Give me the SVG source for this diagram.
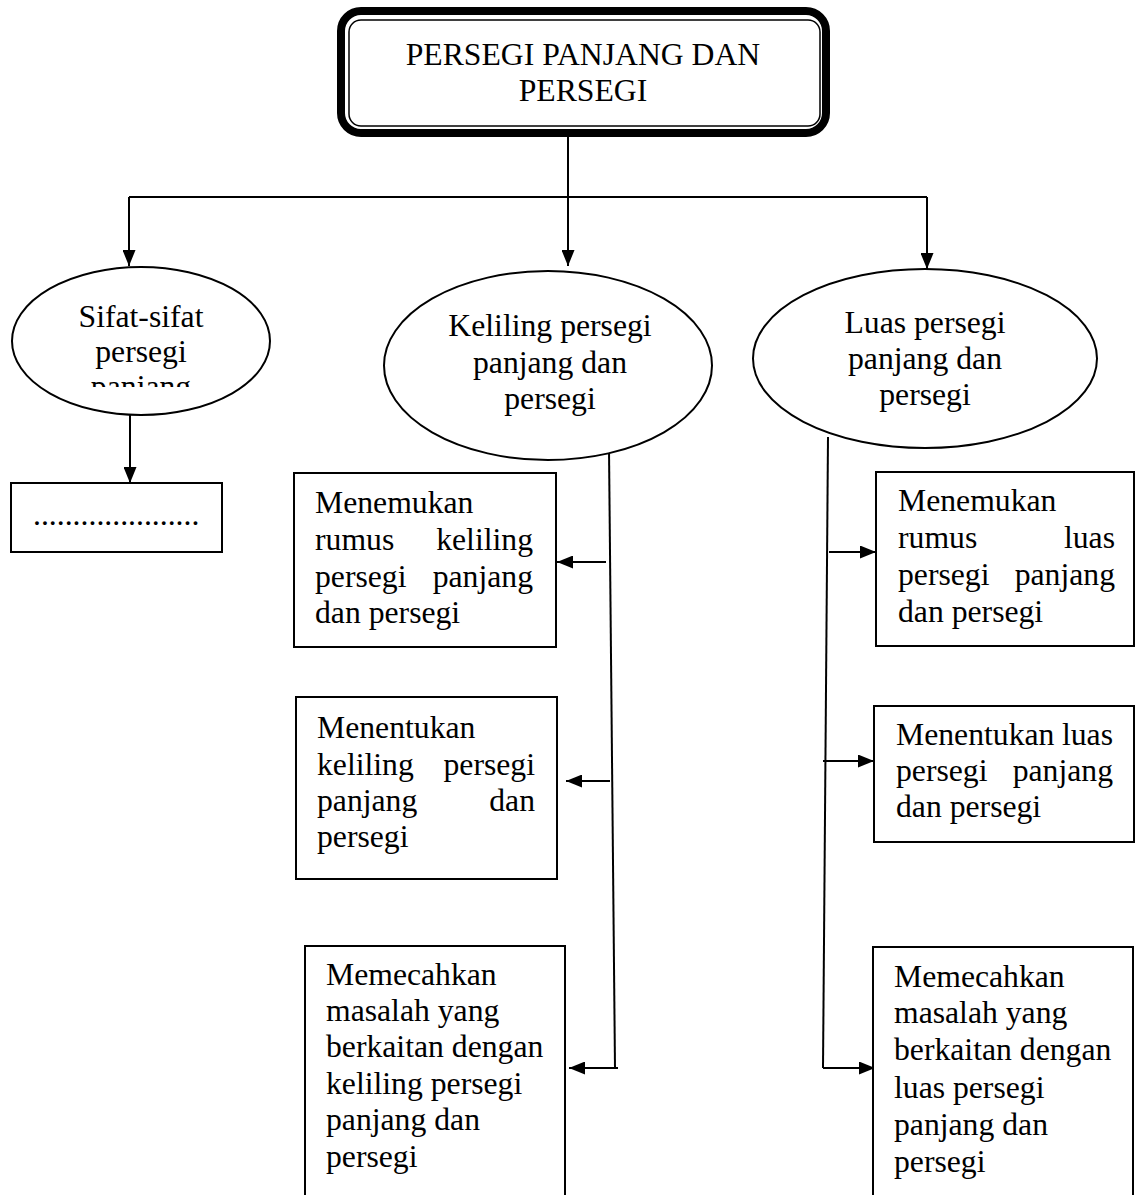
<svg xmlns="http://www.w3.org/2000/svg" width="1136" height="1195" viewBox="0 0 1136 1195">
<style>
  .t { font-family: "Liberation Serif", "Times New Roman", serif; font-size: 31.7px; fill: #000; }
  .mid { text-anchor: middle; }
  .end { text-anchor: end; }
  .box { fill: #fff; stroke: #000; stroke-width: 2; }
  .conn { fill: none; stroke: #000; stroke-width: 2; }
</style>
<defs>
  <marker id="ah" markerUnits="userSpaceOnUse" markerWidth="16" markerHeight="13" refX="16" refY="6.5" orient="auto">
    <path d="M0,0 L16,6.5 L0,13 z" fill="#000"/>
  </marker>
  <clipPath id="clipSifat">
    <rect x="20" y="280" width="240" height="107"/>
  </clipPath>
</defs>
<rect width="1136" height="1195" fill="#fff"/>

<g id="connectors">
  <path class="conn" d="M129,197 H927"/>
  <path class="conn" d="M568,137 V266" marker-end="url(#ah)"/>
  <path class="conn" d="M129,197 V266" marker-end="url(#ah)"/>
  <path class="conn" d="M927,197 V269" marker-end="url(#ah)"/>
  <path class="conn" d="M130,415 V483" marker-end="url(#ah)"/>
  <path class="conn" d="M609,449 L615,1068"/>
  <path class="conn" d="M606,562 H557" marker-end="url(#ah)"/>
  <path class="conn" d="M610,781 H566" marker-end="url(#ah)"/>
  <path class="conn" d="M618,1068 H569" marker-end="url(#ah)"/>
  <path class="conn" d="M828,437 L823,1068"/>
  <path class="conn" d="M829,552 H876" marker-end="url(#ah)"/>
  <path class="conn" d="M823,761 H874" marker-end="url(#ah)"/>
  <path class="conn" d="M823,1068 H875" marker-end="url(#ah)"/>
</g>

<g id="title">
  <rect x="341" y="11" width="485" height="122" rx="20" ry="20" fill="#fff" stroke="#000" stroke-width="8"/>
  <rect x="349" y="20" width="471" height="106" rx="12" ry="12" fill="none" stroke="#000" stroke-width="1.5"/>
  <text class="t mid" x="583" y="65">PERSEGI PANJANG DAN</text>
  <text class="t mid" x="583" y="101">PERSEGI</text>
</g>

<g id="sifat">
  <ellipse class="box" cx="141" cy="341" rx="129" ry="74"/>
  <g clip-path="url(#clipSifat)">
    <text class="t mid" x="141" y="327">Sifat-sifat</text>
    <text class="t mid" x="141" y="362">persegi</text>
    <text class="t mid" x="141" y="397">panjang</text>
  </g>
</g>

<g id="dots">
  <rect class="box" x="11" y="483" width="211" height="69"/>
  <text class="t" x="33" y="525">.....................</text>
</g>

<g id="keliling">
  <ellipse class="box" cx="548" cy="365.5" rx="164" ry="94.5"/>
  <text class="t mid" x="550" y="336">Keliling persegi</text>
  <text class="t mid" x="550" y="373">panjang dan</text>
  <text class="t mid" x="550" y="409">persegi</text>
</g>

<g id="luas">
  <ellipse class="box" cx="925" cy="358.5" rx="172" ry="89.5"/>
  <text class="t mid" x="925" y="333">Luas persegi</text>
  <text class="t mid" x="925" y="369">panjang dan</text>
  <text class="t mid" x="925" y="405">persegi</text>
</g>

<g id="k1">
  <rect class="box" x="294" y="473" width="262" height="174"/>
  <text class="t" x="315" y="513">Menemukan</text>
  <text class="t" x="315" y="550">rumus</text>
  <text class="t end" x="533" y="550">keliling</text>
  <text class="t" x="315" y="587">persegi</text>
  <text class="t end" x="533" y="587">panjang</text>
  <text class="t" x="315" y="623">dan persegi</text>
</g>

<g id="k2">
  <rect class="box" x="296" y="697" width="261" height="182"/>
  <text class="t" x="317" y="738">Menentukan</text>
  <text class="t" x="317" y="775">keliling</text>
  <text class="t end" x="535" y="775">persegi</text>
  <text class="t" x="317" y="811">panjang</text>
  <text class="t end" x="535" y="811">dan</text>
  <text class="t" x="317" y="847">persegi</text>
</g>

<g id="k3">
  <rect class="box" x="305" y="946" width="260" height="260"/>
  <text class="t" x="326" y="985">Memecahkan</text>
  <text class="t" x="326" y="1021">masalah yang</text>
  <text class="t" x="326" y="1057">berkaitan dengan</text>
  <text class="t" x="326" y="1094">keliling persegi</text>
  <text class="t" x="326" y="1130">panjang dan</text>
  <text class="t" x="326" y="1167">persegi</text>
</g>

<g id="l1">
  <rect class="box" x="876" y="472" width="258" height="174"/>
  <text class="t" x="898" y="511">Menemukan</text>
  <text class="t" x="898" y="548">rumus</text>
  <text class="t end" x="1115" y="548">luas</text>
  <text class="t" x="898" y="585">persegi</text>
  <text class="t end" x="1115" y="585">panjang</text>
  <text class="t" x="898" y="622">dan persegi</text>
</g>

<g id="l2">
  <rect class="box" x="874" y="706" width="260" height="136"/>
  <text class="t" x="896" y="745">Menentukan</text>
  <text class="t end" x="1113" y="745">luas</text>
  <text class="t" x="896" y="781">persegi</text>
  <text class="t end" x="1113" y="781">panjang</text>
  <text class="t" x="896" y="817">dan persegi</text>
</g>

<g id="l3">
  <rect class="box" x="873" y="947" width="260" height="260"/>
  <text class="t" x="894" y="987">Memecahkan</text>
  <text class="t" x="894" y="1023">masalah yang</text>
  <text class="t" x="894" y="1060">berkaitan dengan</text>
  <text class="t" x="894" y="1098">luas persegi</text>
  <text class="t" x="894" y="1135">panjang dan</text>
  <text class="t" x="894" y="1172">persegi</text>
</g>
</svg>
